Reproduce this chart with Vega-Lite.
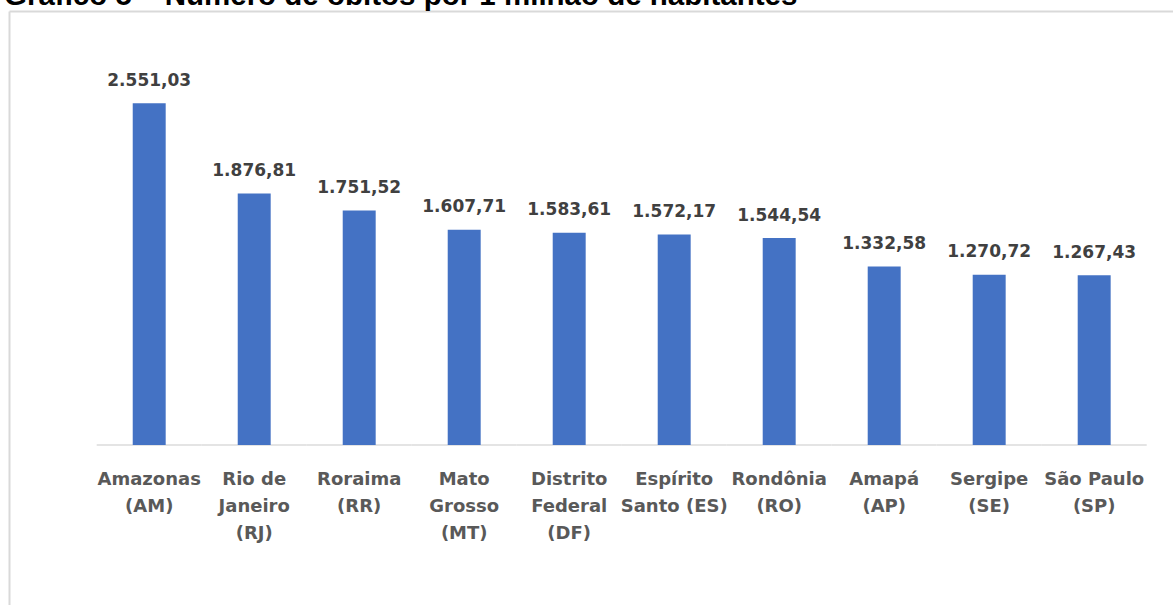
{
  "$schema": "https://vega.github.io/schema/vega-lite/v6.json",
  "width": 1164,
  "height": 594,
  "autosize": {"type": "none"},
  "padding": {"left": 9, "top": 11, "right": 0, "bottom": 0},
  "background": "white",
  "title": {
    "text": "Gráfico 5 – Número de óbitos por 1 milhão de habitantes",
    "anchor": "start",
    "frame": "group",
    "font": "Liberation Sans",
    "fontSize": 29.5,
    "fontWeight": "bold",
    "color": "#000000",
    "baseline": "alphabetic",
    "offset": -23.5,
    "dx": -5
  },
  "config": {
    "view": {"stroke": null},
    "locale": {"number": {"decimal": ",", "thousands": ".", "grouping": [3], "currency": ["R$", ""]}}
  },
  "data": {
    "values": [
      {"estado": "Amazonas (AM)", "valor": 2551.03},
      {"estado": "Rio de Janeiro (RJ)", "valor": 1876.81},
      {"estado": "Roraima (RR)", "valor": 1751.52},
      {"estado": "Mato Grosso (MT)", "valor": 1607.71},
      {"estado": "Distrito Federal (DF)", "valor": 1583.61},
      {"estado": "Espírito Santo (ES)", "valor": 1572.17},
      {"estado": "Rondônia (RO)", "valor": 1544.54},
      {"estado": "Amapá (AP)", "valor": 1332.58},
      {"estado": "Sergipe (SE)", "valor": 1270.72},
      {"estado": "São Paulo (SP)", "valor": 1267.43}
    ]
  },
  "layer": [
    {
      "mark": {"type": "tick", "color": "#d9d9d9", "size": 105, "thickness": 2},
      "encoding": {
        "x": {
          "field": "estado", "type": "nominal", "sort": null,
          "scale": {"paddingInner": 0.686, "paddingOuter": 0.886, "align": 0.665},
          "axis": {"orient": "top", "domain": true, "domainColor": "#d9d9d9", "domainWidth": 2, "labels": false, "ticks": false, "title": null}
        },
        "y": {"datum": 0, "type": "quantitative"}
      }
    },
    {
      "mark": {"type": "bar", "color": "#4472C4"},
      "encoding": {
        "x": {
          "field": "estado", "type": "nominal", "sort": null,
          "axis": {
            "orient": "bottom", "offset": -160, "domain": false, "ticks": false, "tickSize": 0,
            "labelPadding": 25, "labelAngle": 0, "labelAlign": "center", "labelBaseline": "top",
            "labelFont": "DejaVu Sans", "labelFontSize": 18, "labelFontWeight": "bold",
            "labelColor": "#595959", "labelLineHeight": 27, "labelOverlap": false, "labelBound": false, "labelLimit": 300,
            "labelExpr": "datum.value == 'Rio de Janeiro (RJ)' ? ['Rio de', 'Janeiro', '(RJ)'] : datum.value == 'Mato Grosso (MT)' ? ['Mato', 'Grosso', '(MT)'] : datum.value == 'Distrito Federal (DF)' ? ['Distrito', 'Federal', '(DF)'] : datum.value == 'Espírito Santo (ES)' ? ['Espírito', 'Santo (ES)'] : [split(datum.value, ' (')[0], '(' + split(datum.value, ' (')[1]]",
            "title": null
          }
        },
        "y": {
          "field": "valor", "type": "quantitative",
          "scale": {"domain": [-1194.5, 3240], "nice": false, "zero": true},
          "axis": {"domain": true, "domainColor": "#d9d9d9", "domainWidth": 2, "labels": false, "ticks": false, "grid": false, "title": null}
        }
      }
    },
    {
      "mark": {"type": "text", "font": "DejaVu Sans", "fontSize": 17, "fontWeight": "bold", "color": "#404040", "baseline": "alphabetic", "dy": -17.5},
      "encoding": {
        "x": {"field": "estado", "type": "nominal", "sort": null, "axis": null},
        "y": {"field": "valor", "type": "quantitative"},
        "text": {"field": "valor", "type": "quantitative", "format": ",.2f"}
      }
    }
  ],
  "resolve": {"axis": {"x": "independent"}}
}
